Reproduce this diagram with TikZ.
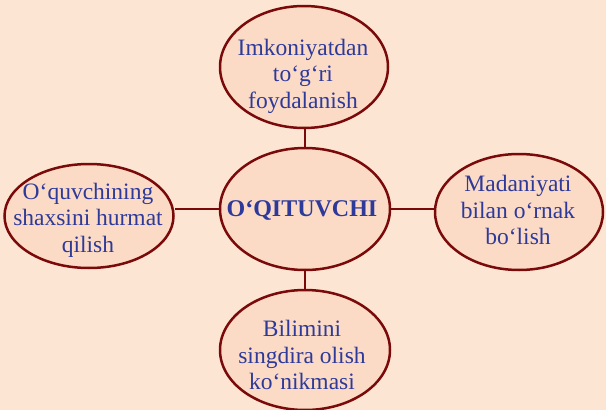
\documentclass[tikz,border=0pt]{standalone}
\usepackage{fontspec}
\setmainfont{Liberation Serif}
\usetikzlibrary{shapes.geometric}
\definecolor{bg}{HTML}{FDE5D4}
\definecolor{efill}{HTML}{FBDBC6}
\definecolor{edge}{HTML}{7A0A0A}
\definecolor{txt}{HTML}{2E3A9A}
\begin{document}
\begin{tikzpicture}[x=1pt,y=-1pt,
  bubble/.style={ellipse,draw=edge,fill=efill,line width=2.5pt,inner sep=0pt},
  label/.style={text=txt,align=center,inner sep=0pt,font=\fontsize{23.5}{26.5}\selectfont},
  link/.style={draw=edge,line width=2.5pt}]
\fill[bg] (0,0) rectangle (606,410);
\useasboundingbox (0,0) rectangle (606,410);
\node[bubble,minimum width=168,minimum height=122] (top) at (304,67) {};
\node[bubble,minimum width=170,minimum height=122] (mid) at (305,209) {};
\node[bubble,minimum width=169,minimum height=104] (left) at (89,216) {};
\node[bubble,minimum width=168,minimum height=116] (right) at (519,212) {};
\node[bubble,minimum width=170,minimum height=120] (bot) at (305,350) {};
\node[label] (topT) at (303,76) {Imkoniyatdan\\to‘g‘ri\\foydalanish};
\node[label,font=\fontsize{24}{27}\selectfont\bfseries] (midT) at (302,210) {O‘QITUVCHI};
\node[label] (leftT) at (88,220) {O‘quvchining\\shaxsini hurmat\\qilish};
\node[label] (rightT) at (518,210) {Madaniyati\\bilan o‘rnak\\bo‘lish};
\node[label] (botT) at (302,355) {Bilimini\\singdira olish\\ko‘nikmasi};
\draw[link] (mid.north) -- (mid.north |- top.south);
\draw[link] (mid.south) -- (bot.north);
\draw[link] (mid.west) -- (mid.west -| left.east);
\draw[link] (mid.east) -- (mid.east -| right.west);
\end{tikzpicture}
\end{document}
